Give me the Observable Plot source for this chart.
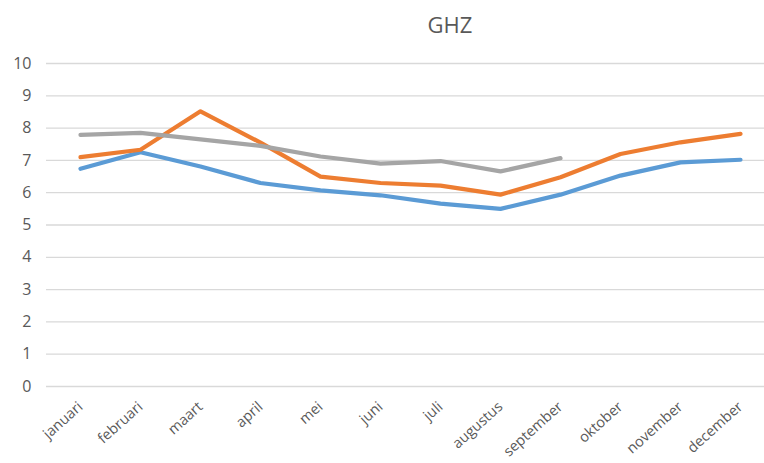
<!DOCTYPE html>
<html>
<head>
<meta charset="utf-8">
<script src="https://cdn.jsdelivr.net/npm/d3@7"></script>
<script src="https://cdn.jsdelivr.net/npm/@observablehq/plot@0.6"></script>
<style>
  html, body { margin: 0; padding: 0; background: #fff; }
  #title { height: 45px; box-sizing: border-box; padding-top: 11px; padding-left: 136px; text-align: center;
           font-family: "Open Sans", sans-serif; font-size: 22px; color: #595959; line-height: 26px; }
</style>
</head>
<body>
<div id="title">GHZ</div>
<div id="chart"></div>
<script>
const months = ["januari","februari","maart","april","mei","juni","juli","augustus","september","oktober","november","december"];
const blue   = [6.74, 7.25, 6.81, 6.30, 6.07, 5.92, 5.66, 5.50, 5.94, 6.53, 6.94, 7.02];
const orange = [7.10, 7.33, 8.52, 7.55, 6.50, 6.30, 6.22, 5.94, 6.48, 7.20, 7.56, 7.82];
const gray   = [7.79, 7.85, 7.65, 7.45, 7.12, 6.90, 6.98, 6.66, 7.07];
const yTicks = [0,1,2,3,4,5,6,7,8,9,10];

const toRows = (vals) => vals.map((v, i) => ({month: months[i], value: v}));

const chart = Plot.plot({
  width: 764,
  height: 418,
  marginTop: 18,
  marginBottom: 77,
  marginLeft: 46,
  marginRight: 0,
  style: {fontFamily: "'Open Sans', sans-serif", fontSize: "15px", color: "#595959", background: "#fff"},
  x: {type: "point", domain: months, range: [77, 743], padding: 0},
  y: {domain: [0, 10]},
  marks: [
    Plot.gridY(yTicks, {stroke: "#d9d9d9", strokeOpacity: 1, strokeWidth: 1.3}),
    Plot.axisY(yTicks, {tickSize: 0, tickPadding: 15, fontSize: 16, fill: "#595959", label: null}),
    Plot.axisX({tickSize: 0, tickPadding: 18, tickRotate: -42, fontSize: 14.5, fill: "#595959", label: null}),
    Plot.lineY(toRows(blue),   {x: "month", y: "value", stroke: "#5b9bd5", strokeWidth: 4.2}),
    Plot.lineY(toRows(orange), {x: "month", y: "value", stroke: "#ed7d31", strokeWidth: 4.2}),
    Plot.lineY(toRows(gray),   {x: "month", y: "value", stroke: "#a5a5a5", strokeWidth: 4.2})
  ]
});
document.getElementById("chart").appendChild(chart);
</script>
</body>
</html>
